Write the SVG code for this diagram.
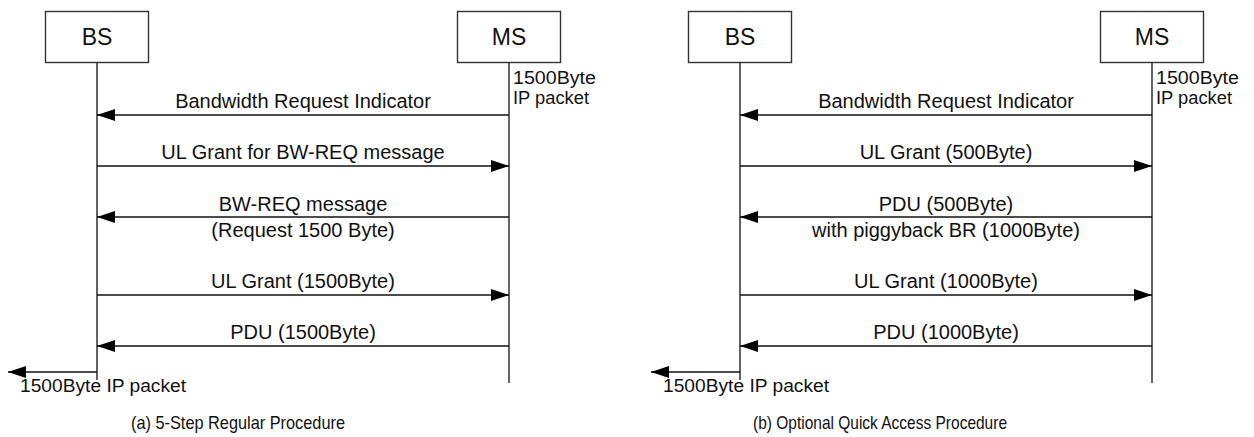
<svg xmlns="http://www.w3.org/2000/svg" width="1254" height="437" viewBox="0 0 1254 437">
<style>
.box{fill:#fff;stroke:#333;stroke-width:1.4}
.life{stroke:#222;stroke-width:1.4;fill:none}
.msg{stroke:#111;stroke-width:1.3;fill:none;marker-end:url(#ah)}
.t{font-family:"Liberation Sans",Arial,sans-serif;fill:#111}
.node{font-size:23px;text-anchor:middle}
.lbl{font-size:20px;text-anchor:middle}
.note{font-size:17.5px}
.cap{font-size:18.5px}
</style>
<defs>
<marker id="ah" markerUnits="userSpaceOnUse" markerWidth="18" markerHeight="12" refX="18" refY="6" orient="auto">
<path d="M0,0 L18,6 L0,12 z" fill="#000"/>
</marker>
</defs>
<rect width="1254" height="437" fill="#fff"/>

<g id="a-BS">
<rect class="box" x="45.5" y="11.5" width="103" height="51"/>
<text class="t node" x="97" y="45">BS</text>
</g>
<g id="a-MS">
<rect class="box" x="457.5" y="11.5" width="103" height="51"/>
<text class="t node" x="509" y="45">MS</text>
<text class="t note" x="513" y="84" textLength="83" lengthAdjust="spacingAndGlyphs">1500Byte</text>
<text class="t note" x="513" y="104" textLength="76" lengthAdjust="spacingAndGlyphs">IP packet</text>
</g>
<g id="b-BS">
<rect class="box" x="688.5" y="11.5" width="103" height="51"/>
<text class="t node" x="740" y="45">BS</text>
</g>
<g id="b-MS">
<rect class="box" x="1100.5" y="11.5" width="103" height="51"/>
<text class="t node" x="1152" y="45">MS</text>
<text class="t note" x="1156" y="84" textLength="83" lengthAdjust="spacingAndGlyphs">1500Byte</text>
<text class="t note" x="1156" y="104" textLength="76" lengthAdjust="spacingAndGlyphs">IP packet</text>
</g>

<g id="connectors">
<line class="life" x1="97" y1="62.5" x2="97" y2="380"/>
<line class="life" x1="509" y1="62.5" x2="509" y2="383"/>
<line class="life" x1="740" y1="62.5" x2="740" y2="380"/>
<line class="life" x1="1152" y1="62.5" x2="1152" y2="383"/>

<line class="msg" x1="509" y1="115" x2="97" y2="115"/>
<line class="msg" x1="97" y1="166" x2="509" y2="166"/>
<line class="msg" x1="509" y1="217" x2="97" y2="217"/>
<line class="msg" x1="97" y1="295" x2="509" y2="295"/>
<line class="msg" x1="509" y1="346" x2="97" y2="346"/>
<line class="msg" x1="97" y1="372" x2="8" y2="372"/>

<line class="msg" x1="1152" y1="115" x2="740" y2="115"/>
<line class="msg" x1="740" y1="166" x2="1152" y2="166"/>
<line class="msg" x1="1152" y1="217" x2="740" y2="217"/>
<line class="msg" x1="740" y1="295" x2="1152" y2="295"/>
<line class="msg" x1="1152" y1="346" x2="740" y2="346"/>
<line class="msg" x1="740" y1="372" x2="651" y2="372"/>
</g>

<g id="labels-a">
<text class="t lbl" x="303" y="108">Bandwidth Request Indicator</text>
<text class="t lbl" x="303" y="159">UL Grant for BW-REQ message</text>
<text class="t lbl" x="303" y="211">BW-REQ message</text>
<text class="t lbl" x="303" y="237">(Request 1500 Byte)</text>
<text class="t lbl" x="303" y="288">UL Grant (1500Byte)</text>
<text class="t lbl" x="303" y="339">PDU (1500Byte)</text>
<text class="t note" x="20" y="392" textLength="166" lengthAdjust="spacingAndGlyphs">1500Byte IP packet</text>
<text class="t cap" x="131" y="429" textLength="214" lengthAdjust="spacingAndGlyphs">(a) 5-Step Regular Procedure</text>
</g>
<g id="labels-b">
<text class="t lbl" x="946" y="108">Bandwidth Request Indicator</text>
<text class="t lbl" x="946" y="159">UL Grant (500Byte)</text>
<text class="t lbl" x="946" y="211">PDU (500Byte)</text>
<text class="t lbl" x="946" y="237">with piggyback BR (1000Byte)</text>
<text class="t lbl" x="946" y="288">UL Grant (1000Byte)</text>
<text class="t lbl" x="946" y="339">PDU (1000Byte)</text>
<text class="t note" x="663" y="392" textLength="166" lengthAdjust="spacingAndGlyphs">1500Byte IP packet</text>
<text class="t cap" x="753" y="429" textLength="254" lengthAdjust="spacingAndGlyphs">(b) Optional Quick Access Procedure</text>
</g>
</svg>
